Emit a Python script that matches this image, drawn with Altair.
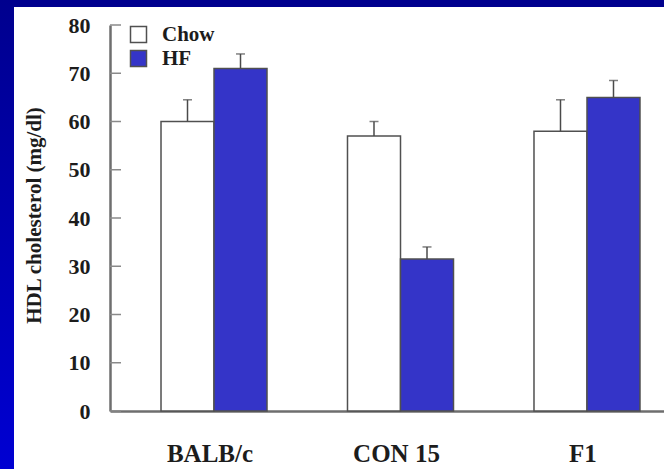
import altair as alt
import pandas as pd

# HDL cholesterol (mg/dl) by strain and diet, mean with upper error
strains = ["BALB/c", "CON 15", "F1"]
diets = ["Chow", "HF"]
chow_mean = [60, 57, 58]
chow_err = [4.5, 3, 6.5]
hf_mean = [71, 31.5, 65]
hf_err = [3, 2.5, 3.5]
y_ticks = [0, 10, 20, 30, 40, 50, 60, 70, 80]

rows = []
for i, s in enumerate(strains):
    rows.append({"strain": s, "diet": "Chow", "value": chow_mean[i], "upper": chow_mean[i] + chow_err[i]})
    rows.append({"strain": s, "diet": "HF", "value": hf_mean[i], "upper": hf_mean[i] + hf_err[i]})
df = pd.DataFrame(rows)

SERIF = "Liberation Serif"
TEXT = "#1c1c1c"
AXIS_GREY = "#6e6e6e"
BAR_BLUE = "#3434c8"

W, H = 554, 386
PAD = {"left": 110, "top": 25, "right": 0, "bottom": 58}

x_scale = alt.Scale(domain=strains, range=[0, 581], paddingInner=0.4316, paddingOuter=0.2735)
y_scale = alt.Scale(domain=[0, 80], nice=False)
off_scale = alt.Scale(domain=diets, paddingInner=0, paddingOuter=0)

base = alt.Chart(df)

bars = base.mark_bar(stroke="#505050", strokeWidth=1.5).encode(
    x=alt.X(
        "strain:N",
        scale=x_scale,
        sort=strains,
        axis=alt.Axis(
            title=None,
            labelAngle=0,
            ticks=False,
            tickSize=0,
            labelPadding=30,
            labelOffset=-4,
            labelFont=SERIF,
            labelFontWeight="bold",
            labelFontSize=25,
            labelColor=TEXT,
            domainColor=AXIS_GREY,
            domainWidth=2.5,
            grid=False,
        ),
    ),
    xOffset=alt.XOffset("diet:N", scale=off_scale, sort=diets),
    y=alt.Y(
        "value:Q",
        scale=y_scale,
        axis=alt.Axis(
            title="HDL cholesterol (mg/dl)",
            values=y_ticks,
            ticks=False,
            tickSize=0,
            grid=False,
            labelPadding=20,
            labelFont=SERIF,
            labelFontWeight="bold",
            labelFontSize=22,
            labelColor=TEXT,
            domainColor=AXIS_GREY,
            domainWidth=2.5,
            titleFont=SERIF,
            titleFontWeight="bold",
            titleFontSize=21,
            titleColor=TEXT,
            titleAngle=270,
            titleAlign="center",
            titleBaseline="middle",
            titleX=-76,
            titleY=190,
        ),
    ),
    color=alt.Color(
        "diet:N",
        scale=alt.Scale(domain=diets, range=["#ffffff", BAR_BLUE]),
        sort=diets,
        legend=alt.Legend(
            title=None,
            orient="none",
            legendX=18,
            legendY=-1,
            padding=0,
            symbolType="square",
            symbolSize=256,
            symbolStrokeColor="#505050",
            symbolStrokeWidth=1.5,
            labelFont=SERIF,
            labelFontWeight="bold",
            labelFontSize=21,
            labelColor=TEXT,
            labelOffset=13,
            rowPadding=1,
        ),
    ),
)

err_line = base.mark_rule(color="#4a4a4a", strokeWidth=1.5).encode(
    x=alt.X("strain:N", scale=x_scale, sort=strains),
    xOffset=alt.XOffset("diet:N", scale=off_scale, sort=diets),
    y=alt.Y("value:Q", scale=y_scale),
    y2="upper:Q",
)

err_cap = base.mark_tick(color="#4a4a4a", thickness=1.5, size=9).encode(
    x=alt.X("strain:N", scale=x_scale, sort=strains),
    xOffset=alt.XOffset("diet:N", scale=off_scale, sort=diets),
    y=alt.Y("upper:Q", scale=y_scale),
)

# inward-pointing tick marks on the value axis
tick_df = pd.DataFrame({"v": y_ticks})
inner_ticks = alt.Chart(tick_df).mark_rule(color="#8a8a8a", strokeWidth=1.5).encode(
    y=alt.Y("v:Q", scale=y_scale),
    x=alt.value(0),
    x2=alt.value(11),
)

# slide frame: dark blue band on top and along the left edge
one = pd.DataFrame({"k": [0]})
top_band = alt.Chart(one).mark_rect(color="#00008e").encode(
    x=alt.value(-PAD["left"]),
    x2=alt.value(W + 10),
    y=alt.value(-PAD["top"]),
    y2=alt.value(-PAD["top"] + 7),
)
left_band = alt.Chart(one).mark_rect(
    color=alt.LinearGradient(
        gradient="linear",
        x1=0, x2=0, y1=0, y2=1,
        stops=[
            alt.GradientStop(color="#00008e", offset=0),
            alt.GradientStop(color="#0000d2", offset=1),
        ],
    )
).encode(
    x=alt.value(-PAD["left"]),
    x2=alt.value(-PAD["left"] + 14),
    y=alt.value(-PAD["top"]),
    y2=alt.value(H + PAD["bottom"]),
)

chart = (
    alt.layer(top_band, left_band, bars, err_line, err_cap, inner_ticks)
    .properties(width=W, height=H, autosize="none", padding=PAD, background="#ffffff")
    .configure_view(strokeWidth=0)
)

chart.save("out.html", embed_options={"renderer": "svg", "actions": False})
